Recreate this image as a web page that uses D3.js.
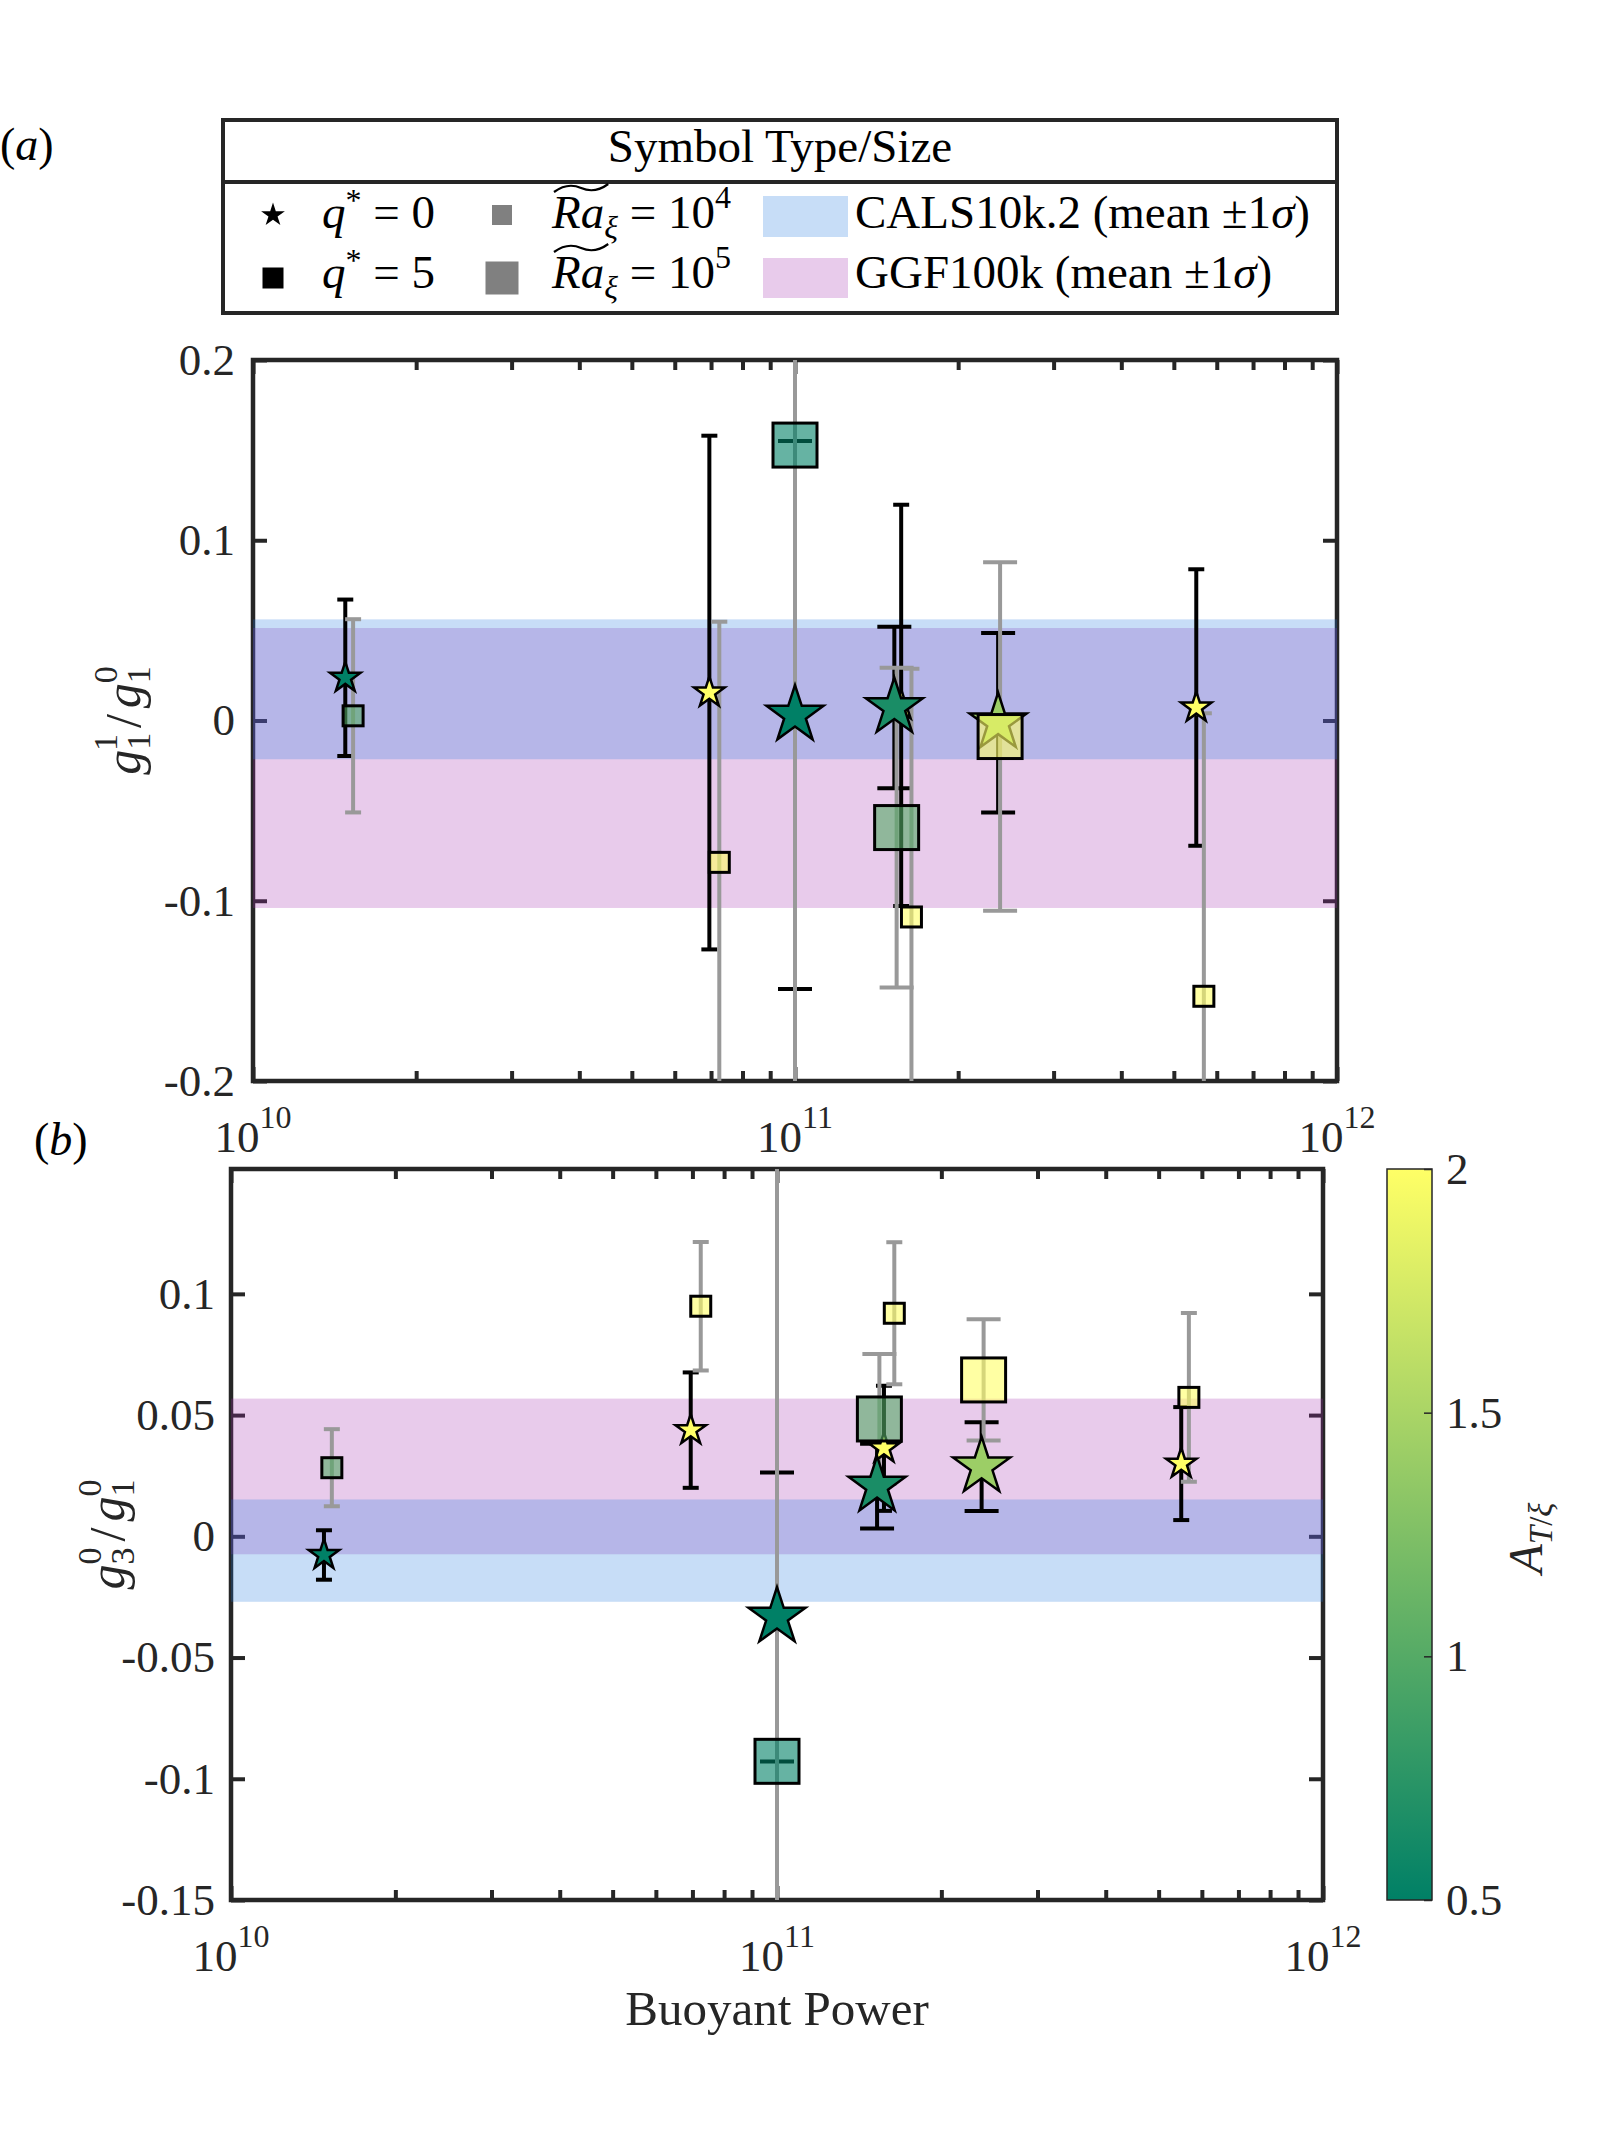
<!DOCTYPE html>
<html>
<head>
<meta charset="utf-8">
<script src="https://cdn.jsdelivr.net/npm/d3@7"></script>
<style>
  body { margin: 0; background: #fff; }
  text { font-family: "Liberation Serif", "Times New Roman", serif; }
</style>
</head>
<body>
<svg id="fig" width="1620" height="2154"></svg>
<script>
// runs: q*=0 are stars, q*=5 are squares (buoyant power, Ra, A_T/xi)
const starX = [1.48e10, 6.95e10, 1.0e11, 1.525e11, 1.57e11, 2.37e11, 5.5e11]
const starRa = [1e4, 1e4, 1e5, 1e5, 1e4, 1e5, 1e4]
const starA = [0.5, 2, 0.5, 0.65, 2, 1.42, 2]
const sqX = [1.53e10, 7.25e10, 1.0e11, 1.54e11, 1.64e11, 2.39e11, 5.68e11]
const sqRa = [1e4, 1e4, 1e5, 1e5, 1e4, 1e5, 1e4]
const sqA = [1.0, 2, 0.5, 1.0, 2, 2, 2]

// panel (a): g_1^1/g_1^0, value and +-1 sigma
const starG11 = [0.0237, 0.0155, 0.003, 0.0072, 0.0084, -0.0012, 0.0072]
const starG11Err = [0.0434, 0.1425, 0.152, 0.0448, 0.1113, 0.0498, 0.0767]
const sqG11 = [0.0026, -0.0787, 0.1528, -0.0594, -0.109, -0.0089, -0.153]
const sqG11Err = [0.0536, 0.1335, 0.38, 0.0887, 0.1377, 0.0967, 0.157]

// panel (b): g_3^0/g_1^0
const starG30 = [-0.0077, 0.0438, -0.0333, 0.0207, 0.0363, 0.0287, 0.03]
const starG30Err = [0.0102, 0.0238, 0.0596, 0.0175, 0.0258, 0.0183, 0.0233]
const sqG30 = [0.0283, 0.0949, -0.0928, 0.0484, 0.092, 0.0645, 0.0573]
const sqG30Err = [0.0159, 0.0265, 0.26, 0.0268, 0.0293, 0.025, 0.0348]

// field models, [mean - 1 sigma, mean + 1 sigma]
const calsG11 = [-0.0215, 0.0561]
const ggfG11 = [-0.104, 0.0513]
const calsG30 = [-0.027, 0.0152]
const ggfG30 = [-0.0074, 0.0568]

// ticks
const xTicks = [1e10, 1e11, 1e12]
const g11Ticks = [-0.2, -0.1, 0, 0.1, 0.2]
const g30Ticks = [-0.15, -0.1, -0.05, 0, 0.05, 0.1]
const cbTicks = [0.5, 1, 1.5, 2]

const svg = d3.select('#fig')
const ink = '#262626'
const greyBar = '#999999'
const calsFill = 'rgb(32,120,224)', ggfFill = 'rgb(163,47,175)'
const bandOpacity = 0.25
const tickFont = 45

// MATLAB "summer" colormap
const summer = d3.scaleLinear().domain([0.5, 2]).range(['#008066', '#ffff66'])
  .interpolate(d3.interpolateRgb).clamp(true)

function starPath(R) {
  let pts = []
  for (let k = 0; k < 10; k++) {
    let r = k % 2 ? R * 0.382 : R
    let a = -Math.PI / 2 + k * Math.PI / 5
    pts.push([r * Math.cos(a), r * Math.sin(a)])
  }
  return 'M' + pts.map(p => p[0].toFixed(2) + ',' + p[1].toFixed(2)).join('L') + 'Z'
}

// text made of pieces: [string, {i: italic, s: size, dx, dy}]
function rich(el, parts, size) {
  parts.forEach(([t, o]) => {
    o = o || {}
    el.append('tspan').text(t)
      .attr('font-style', o.i ? 'italic' : null)
      .attr('font-size', o.s || size)
      .attr('dx', o.dx || null)
      .attr('dy', o.dy || null)
  })
  return el
}

// small markers first, big ones on top (as in the original plot)
const starOrder = d3.range(starX.length).sort((a, b) => starRa[a] - starRa[b] || a - b)
const sqOrder = d3.range(sqX.length).sort((a, b) => sqRa[a] - sqRa[b] || a - b)

function drawPanel(p) {
  const x = d3.scaleLog().domain([1e10, 1e12]).range([p.left, p.left + p.w])
  const y = d3.scaleLinear().domain(p.yDomain).range([p.top + p.h, p.top])
  const g = svg.append('g')

  svg.append('clipPath').attr('id', 'clip' + p.id)
    .append('rect').attr('x', p.left).attr('y', p.top).attr('width', p.w).attr('height', p.h)

  // axes box with inward ticks
  const minor = []
  for (let e = 10; e < 12; e++) for (let m = 2; m < 10; m++) minor.push(m * Math.pow(10, e))

  const axes = g.append('g').attr('color', ink)
  axes.append('g').attr('transform', `translate(0,${p.top + p.h})`)
    .call(d3.axisBottom(x).tickValues(minor).tickSize(-10).tickFormat(''))
  axes.append('g').attr('transform', `translate(0,${p.top})`)
    .call(d3.axisTop(x).tickValues(minor).tickSize(-10).tickFormat(''))
  axes.append('g').attr('transform', `translate(0,${p.top + p.h})`)
    .call(d3.axisBottom(x).tickValues(xTicks).tickSize(-14).tickFormat(''))
  axes.append('g').attr('transform', `translate(0,${p.top})`)
    .call(d3.axisTop(x).tickValues(xTicks).tickSize(-14).tickFormat(''))
  axes.append('g').attr('transform', `translate(${p.left},0)`)
    .call(d3.axisLeft(y).tickValues(p.yTicks).tickSize(-14).tickPadding(p.pad).tickFormat(d => String(d)))
  axes.append('g').attr('transform', `translate(${p.left + p.w},0)`)
    .call(d3.axisRight(y).tickValues(p.yTicks).tickSize(-14).tickFormat(''))
  axes.selectAll('.domain').remove()
  axes.selectAll('.tick line').attr('stroke-width', 4)
  axes.selectAll('text').attr('font-size', tickFont).attr('fill', ink)
  axes.append('rect')
    .attr('x', p.left).attr('y', p.top).attr('width', p.w).attr('height', p.h)
    .attr('fill', 'none').attr('stroke', ink).attr('stroke-width', 4.5)

  // x tick labels 10^n
  xTicks.forEach(v => {
    let t = g.append('text').attr('x', x(v)).attr('y', p.top + p.h + 71)
      .attr('text-anchor', 'middle').attr('fill', ink)
    rich(t, [['10'], [String(Math.round(Math.log10(v))), {s: 32, dy: -24}]], tickFont)
  })

  // field model bands (blue over pink)
  const bands = g.append('g')
  ;[[p.ggf, ggfFill], [p.cals, calsFill]].forEach(([b, c]) => {
    bands.append('rect')
      .attr('x', p.left).attr('width', p.w)
      .attr('y', y(b[1])).attr('height', y(b[0]) - y(b[1]))
      .attr('fill', c).attr('fill-opacity', bandOpacity)
  })

  const data = g.append('g').attr('clip-path', `url(#clip${p.id})`)

  function errBars(xs, ys, es, ras, color) {
    xs.forEach((xv, i) => {
      let cx = x(xv), cw = ras[i] > 5e4 ? 17 : 8
      let y0 = y(ys[i] - es[i]), y1 = y(ys[i] + es[i])
      let eb = data.append('g').attr('stroke', color).attr('stroke-width', 4)
      eb.append('line').attr('x1', cx).attr('x2', cx).attr('y1', y0).attr('y2', y1)
      eb.append('line').attr('x1', cx - cw).attr('x2', cx + cw).attr('y1', y0).attr('y2', y0)
      eb.append('line').attr('x1', cx - cw).attr('x2', cx + cw).attr('y1', y1).attr('y2', y1)
    })
  }
  errBars(starX, p.starY, p.starErr, starRa, '#000')
  errBars(sqX, p.sqY, p.sqErr, sqRa, greyBar)

  data.selectAll('.star').data(starOrder).enter()
    .append('path')
    .attr('class', 'star')
    .attr('d', i => starPath(starRa[i] > 5e4 ? 30 : 16))
    .attr('transform', i => `translate(${x(starX[i])},${y(p.starY[i])})`)
    .attr('fill', i => summer(starA[i]))
    .attr('stroke', '#000').attr('stroke-width', 2.5)

  data.selectAll('.sq').data(sqOrder).enter()
    .append('rect')
    .attr('class', 'sq')
    .each(function (i) {
      let s = sqRa[i] > 5e4 ? 44 : 20
      d3.select(this).attr('x', x(sqX[i]) - s / 2).attr('y', y(p.sqY[i]) - s / 2)
        .attr('width', s).attr('height', s)
    })
    .attr('fill', i => summer(sqA[i])).attr('fill-opacity', 0.6)
    .attr('stroke', '#000').attr('stroke-width', 3)

  // y label, rotated
  let yl = g.append('text')
    .attr('transform', `translate(${p.ylabX},${p.top + p.h / 2}) rotate(-90)`)
    .attr('text-anchor', 'middle').attr('fill', ink)
  rich(yl, p.ylab, 50)

  // panel letter
  let pl = g.append('text').attr('x', p.letterX).attr('y', p.letterY).attr('fill', '#000')
  rich(pl, [['('], [p.letter, {i: 1}], [')']], 46)
}

const subSup = (a, b) => [[a, {s: 34, dy: 10}], [b, {s: 34, dx: -17, dy: -33}]]

drawPanel({
  id: 'a', left: 253, top: 360, w: 1084, h: 721, pad: 18,
  yDomain: [-0.2, 0.2], yTicks: g11Ticks,
  starY: starG11, starErr: starG11Err, sqY: sqG11, sqErr: sqG11Err,
  cals: calsG11, ggf: ggfG11,
  ylabX: 140,
  ylab: [['g', {i: 1}], ...subSup('1', '1'), ['/', {dx: 6, dy: 23}], ['g', {i: 1, dx: 6}], ...subSup('1', '0')],
  letter: 'a', letterX: 0, letterY: 160
})

drawPanel({
  id: 'b', left: 231, top: 1169, w: 1092, h: 731, pad: 16,
  yDomain: [-0.15, 0.1515], yTicks: g30Ticks,
  starY: starG30, starErr: starG30Err, sqY: sqG30, sqErr: sqG30Err,
  cals: calsG30, ggf: ggfG30,
  ylabX: 124,
  ylab: [['g', {i: 1}], ...subSup('3', '0'), ['/', {dx: 6, dy: 23}], ['g', {i: 1, dx: 6}], ...subSup('1', '0')],
  letter: 'b', letterX: 34, letterY: 1155
})

// x axis title
svg.append('text').attr('x', 777).attr('y', 2025).attr('text-anchor', 'middle')
  .attr('font-size', 49).attr('fill', ink).text('Buoyant Power')

// ---------- legend ----------
const lg = svg.append('g')
lg.append('rect').attr('x', 223).attr('y', 120).attr('width', 1114).attr('height', 193)
  .attr('fill', '#fff').attr('stroke', ink).attr('stroke-width', 4)
lg.append('line').attr('x1', 223).attr('x2', 1337).attr('y1', 182).attr('y2', 182)
  .attr('stroke', ink).attr('stroke-width', 4)
lg.append('text').attr('x', 780).attr('y', 162).attr('text-anchor', 'middle')
  .attr('font-size', 47).text('Symbol Type/Size')

const rowY = [228, 288], symY = [215, 278]
lg.append('path').attr('d', starPath(12.5)).attr('transform', `translate(273,${symY[0]})`).attr('fill', '#000')
lg.append('rect').attr('x', 273 - 10.5).attr('y', symY[1] - 10.5).attr('width', 21).attr('height', 21).attr('fill', '#000')
;['0', '5'].forEach((q, k) => {
  let t = lg.append('text').attr('x', 322).attr('y', rowY[k])
  rich(t, [['q', {i: 1}], ['*', {s: 32, dy: -17}], [' = ' + q, {dy: 17}]], 47)
})

;[20, 33].forEach((s, k) => {
  lg.append('rect').attr('x', 502 - s / 2).attr('y', symY[k] - s / 2).attr('width', s).attr('height', s)
    .attr('fill', '#808080')
})
;['4', '5'].forEach((e, k) => {
  let t = lg.append('text').attr('x', 552).attr('y', rowY[k])
  rich(t, [['Ra', {i: 1}], ['\u03be', {i: 1, s: 32, dy: 10}], [' = 10', {dy: -10}], [e, {s: 32, dy: -20}]], 47)
  let w = t.node().getSubStringLength(0, 2)
  let x0 = 554, x1 = 552 + w + 4, ty = rowY[k] - 40, mid = (x0 + x1) / 2
  lg.append('path')
    .attr('d', `M${x0},${ty + 4} Q${(x0 + mid) / 2},${ty - 6} ${mid},${ty} T${x1},${ty - 4}`)
    .attr('fill', 'none').attr('stroke', '#000').attr('stroke-width', 2.2)
})

;[[calsFill, 196, 237], [ggfFill, 258, 298]].forEach(([c, y0, y1]) => {
  lg.append('rect').attr('x', 763).attr('y', y0).attr('width', 85).attr('height', y1 - y0)
    .attr('fill', c).attr('fill-opacity', bandOpacity)
})
;['CALS10k.2', 'GGF100k'].forEach((name, k) => {
  let t = lg.append('text').attr('x', 855).attr('y', rowY[k])
  rich(t, [[name + ' (mean \u00b11'], ['\u03c3', {i: 1}], [')']], 47)
})

// ---------- colorbar ----------
const cbX = 1387, cbW = 45, cbTop = 1169, cbBot = 1900
const grad = svg.append('defs').append('linearGradient').attr('id', 'summer')
  .attr('x1', 0).attr('y1', 1).attr('x2', 0).attr('y2', 0)
grad.append('stop').attr('offset', 0).attr('stop-color', summer(0.5))
grad.append('stop').attr('offset', 1).attr('stop-color', summer(2))
svg.append('rect').attr('x', cbX).attr('y', cbTop).attr('width', cbW).attr('height', cbBot - cbTop)
  .attr('fill', 'url(#summer)').attr('stroke', ink).attr('stroke-width', 1.5)
const cb = d3.scaleLinear().domain([0.5, 2]).range([cbBot, cbTop])
const cbAxis = svg.append('g').attr('transform', `translate(${cbX + cbW},0)`).attr('color', ink)
  .call(d3.axisRight(cb).tickValues(cbTicks).tickSize(-8).tickPadding(14).tickFormat(d => String(d)))
cbAxis.select('.domain').remove()
cbAxis.selectAll('.tick line').attr('stroke-width', 1.5)
cbAxis.selectAll('text').attr('font-size', tickFont).attr('fill', ink)

let cbl = svg.append('text').attr('transform', 'translate(1542,1538) rotate(-90)')
  .attr('text-anchor', 'middle').attr('fill', ink)
rich(cbl, [['A', {i: 1}], ['T', {i: 1, s: 33, dy: 10}], ['/', {s: 33}], ['\u03be', {i: 1, s: 33}]], 48)
</script>
</body>
</html>
